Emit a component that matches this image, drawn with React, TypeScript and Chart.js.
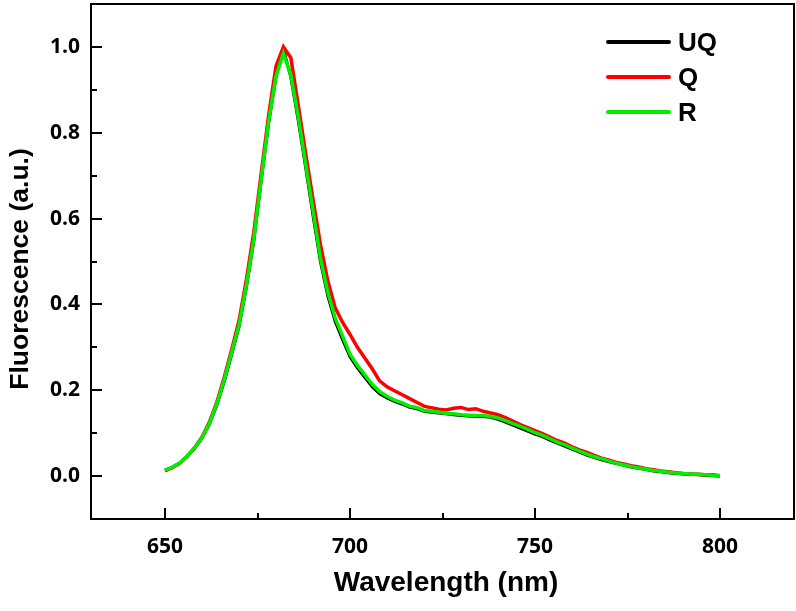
import React, { useEffect, useRef } from "react";
import { Chart, registerables } from "chart.js";

Chart.register(...registerables);

// ---- data ----
const wavelengths = [
  650, 652, 654, 656, 658, 660, 662, 664, 666, 668, 670, 672, 674, 676, 678, 680, 682, 684, 686, 688,
  690, 692, 694, 696, 698, 700, 702, 704, 706, 708, 710, 712, 714, 716, 718, 720, 722, 724, 726, 728,
  730, 732, 734, 736, 738, 740, 742, 744, 746, 748, 750, 752, 754, 756, 758, 760, 762, 764, 766, 768,
  770, 772, 774, 776, 778, 780, 782, 784, 786, 788, 790, 792, 794, 796, 798, 800,
];

const uqValues = [
  0.013, 0.02, 0.03, 0.046, 0.065, 0.088, 0.121, 0.165, 0.22, 0.283, 0.348, 0.44, 0.548, 0.688, 0.822, 0.93, 0.995, 0.93, 0.83, 0.72,
  0.608, 0.5, 0.42, 0.36, 0.318, 0.278, 0.252, 0.23, 0.208, 0.192, 0.182, 0.174, 0.168, 0.161, 0.157, 0.151, 0.149, 0.147, 0.145, 0.143,
  0.141, 0.14, 0.139, 0.139, 0.137, 0.132, 0.126, 0.119, 0.112, 0.105, 0.098, 0.092, 0.084, 0.077, 0.07, 0.063, 0.056, 0.049, 0.043, 0.038,
  0.033, 0.029, 0.025, 0.021, 0.018, 0.015, 0.012, 0.01, 0.008, 0.006, 0.005, 0.004, 0.003, 0.002, 0.001, 0.0,
];

const qValues = [
  0.012, 0.02, 0.03, 0.046, 0.066, 0.091, 0.126, 0.172, 0.23, 0.294, 0.362, 0.458, 0.568, 0.705, 0.84, 0.955, 1.0, 0.975, 0.865, 0.752,
  0.645, 0.54, 0.455, 0.392, 0.358, 0.33, 0.3, 0.275, 0.25, 0.222, 0.208, 0.199, 0.19, 0.181, 0.172, 0.163, 0.159, 0.156, 0.154, 0.158,
  0.16, 0.155, 0.157, 0.151, 0.147, 0.143, 0.136, 0.128, 0.12, 0.113, 0.106, 0.099, 0.091, 0.083, 0.077, 0.068, 0.061, 0.055, 0.048, 0.042,
  0.037, 0.032, 0.028, 0.024, 0.021, 0.017, 0.015, 0.012, 0.01, 0.008, 0.006, 0.005, 0.004, 0.003, 0.003, 0.001,
];

const rValues = [
  0.014, 0.021, 0.031, 0.047, 0.066, 0.089, 0.123, 0.168, 0.224, 0.287, 0.352, 0.445, 0.552, 0.692, 0.826, 0.932, 0.985, 0.935, 0.838, 0.728,
  0.618, 0.508, 0.428, 0.368, 0.326, 0.284, 0.258, 0.236, 0.214, 0.197, 0.186, 0.177, 0.171, 0.163, 0.16, 0.153, 0.151, 0.149, 0.146, 0.145,
  0.143, 0.142, 0.141, 0.141, 0.139, 0.135, 0.129, 0.122, 0.116, 0.109, 0.101, 0.095, 0.087, 0.079, 0.073, 0.065, 0.058, 0.051, 0.045, 0.04,
  0.035, 0.03, 0.026, 0.022, 0.019, 0.016, 0.013, 0.011, 0.009, 0.007, 0.006, 0.005, 0.004, 0.003, 0.002, 0.001,
];

const seriesNames = ["UQ", "Q", "R"];
const seriesColors = ["#000000", "#ff0000", "#00ee00"];

const xMajorTicks = [650, 700, 750, 800];
const xMinorTicks = [675, 725, 775];
const yMajorTicks = [0.0, 0.2, 0.4, 0.6, 0.8, 1.0];
const yMinorTicks = [0.1, 0.3, 0.5, 0.7, 0.9];

const xTitle = "Wavelength (nm)";
const yTitle = "Fluorescence (a.u.)";

const X_TITLE_FONT = "bold 28px 'Liberation Sans', Arial, sans-serif";
const Y_TITLE_FONT = "bold 26.5px 'Liberation Sans', Arial, sans-serif";
const LEGEND_FONT = "bold 26px 'Liberation Sans', Arial, sans-serif";

const framePlugin = {
  id: "frame",
  afterDraw(chart: any) {
    const { ctx, chartArea } = chart;
    const xs = chart.scales.x;
    const ys = chart.scales.y;
    const { left, right, top, bottom } = chartArea;
    ctx.save();
    ctx.strokeStyle = "#000";
    ctx.lineWidth = 2;
    ctx.strokeRect(left, top, right - left, bottom - top);

    // inward ticks
    ctx.beginPath();
    xMajorTicks.forEach((v) => {
      const px = Math.round(xs.getPixelForValue(v));
      ctx.moveTo(px, bottom);
      ctx.lineTo(px, bottom - 11);
    });
    xMinorTicks.forEach((v) => {
      const px = Math.round(xs.getPixelForValue(v));
      ctx.moveTo(px, bottom);
      ctx.lineTo(px, bottom - 6);
    });
    yMajorTicks.forEach((v) => {
      const py = Math.round(ys.getPixelForValue(v));
      ctx.moveTo(left, py);
      ctx.lineTo(left + 11, py);
    });
    yMinorTicks.forEach((v) => {
      const py = Math.round(ys.getPixelForValue(v));
      ctx.moveTo(left, py);
      ctx.lineTo(left + 6, py);
    });
    ctx.stroke();

    // axis titles
    ctx.fillStyle = "#000";
    ctx.textAlign = "center";
    ctx.textBaseline = "alphabetic";
    ctx.font = X_TITLE_FONT;
    ctx.fillText(xTitle, 446, 591);
    ctx.save();
    ctx.font = Y_TITLE_FONT;
    ctx.translate(28, 269);
    ctx.rotate(-Math.PI / 2);
    ctx.fillText(yTitle, 0, 0);
    ctx.restore();

    // legend
    const legendY = [42, 77, 112];
    seriesNames.forEach((name, i) => {
      ctx.strokeStyle = seriesColors[i];
      ctx.lineWidth = 4;
      ctx.lineCap = "round";
      ctx.beginPath();
      ctx.moveTo(608, legendY[i]);
      ctx.lineTo(669, legendY[i]);
      ctx.stroke();
      ctx.fillStyle = "#000";
      ctx.font = LEGEND_FONT;
      ctx.textAlign = "left";
      ctx.textBaseline = "middle";
      ctx.fillText(name, 678, legendY[i] + 2);
    });
    ctx.restore();
  },
};

export default function App() {
  const canvasRef = useRef<HTMLCanvasElement | null>(null);

  useEffect(() => {
    document.body.style.margin = "0";
    const canvas = canvasRef.current;
    if (!canvas) return;
    const seriesValues = [uqValues, qValues, rValues];
    const chart = new Chart(canvas, {
      type: "line",
      data: {
        datasets: seriesNames.map((name, i) => ({
          label: name,
          data: wavelengths.map((w, j) => ({ x: w, y: seriesValues[i][j] })),
          borderColor: seriesColors[i],
          backgroundColor: seriesColors[i],
          borderWidth: i === 0 ? 3 : 3.5,
          pointRadius: 0,
          tension: 0,
          order: 3 - i,
        })),
      },
      options: {
        animation: false,
        responsive: false,
        devicePixelRatio: 1,
        layout: { padding: { top: 4, right: 2, left: 0, bottom: 0 } },
        plugins: {
          legend: { display: false },
          tooltip: { enabled: false },
        },
        scales: {
          x: {
            type: "linear",
            min: 630,
            max: 820,
            grid: { display: false, drawTicks: false },
            border: { display: false },
            afterBuildTicks: (scale: any) => {
              scale.ticks = xMajorTicks.map((v) => ({ value: v }));
            },
            afterFit: (scale: any) => {
              scale.height = 92;
              scale.paddingLeft = 0;
              scale.paddingRight = 0;
              scale.paddingTop = 0;
              scale.paddingBottom = 0;
            },
            ticks: {
              color: "#000",
              padding: 15,
              maxRotation: 0,
              font: { family: "'Open Sans'", size: 21, weight: "bold" },
              callback: (v: any) => String(v),
            },
          },
          y: {
            type: "linear",
            min: -0.1,
            max: 1.1,
            grid: { display: false, drawTicks: false },
            border: { display: false },
            afterBuildTicks: (scale: any) => {
              scale.ticks = yMajorTicks.map((v) => ({ value: v }));
            },
            afterFit: (scale: any) => {
              scale.width = 91;
              scale.paddingLeft = 0;
              scale.paddingRight = 0;
              scale.paddingTop = 0;
              scale.paddingBottom = 0;
            },
            ticks: {
              color: "#000",
              padding: 11,
              font: { family: "'Open Sans'", size: 21, weight: "bold" },
              callback: (v: any) => Number(v).toFixed(1),
            },
          },
        },
      },
      plugins: [framePlugin],
    });
    return () => chart.destroy();
  }, []);

  return (
    <div style={{ width: 796, height: 611, background: "#fff" }}>
      <canvas ref={canvasRef} width={796} height={611} style={{ display: "block" }} />
    </div>
  );
}
